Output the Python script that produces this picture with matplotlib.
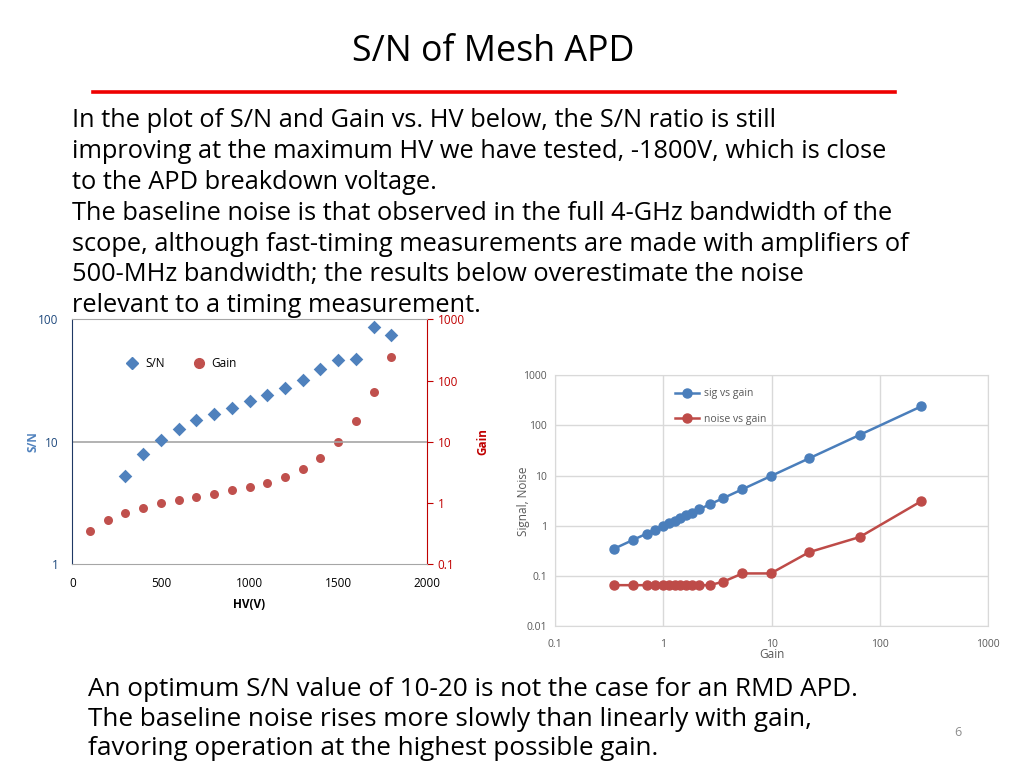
import numpy as np
import matplotlib
matplotlib.use('Agg')
import matplotlib.pyplot as plt
from matplotlib.lines import Line2D
from matplotlib.ticker import FixedLocator, FuncFormatter

# data
hv = [100, 200, 300, 400, 500, 600, 700, 800, 900, 1000,
      1100, 1200, 1300, 1400, 1500, 1600, 1700, 1800]
gain = [0.35, 0.53, 0.70, 0.84, 0.99, 1.12, 1.27, 1.43, 1.62, 1.83,
        2.15, 2.67, 3.56, 5.38, 9.8, 22.2, 65.0, 240.0]
sn_hv = [300, 400, 500, 600, 700, 800, 900, 1000, 1100, 1200,
         1300, 1400, 1500, 1600, 1700, 1800]
sn = [5.26, 7.96, 10.35, 12.65, 15.0, 16.9, 19.0, 21.4, 24.1, 27.5,
      32.2, 39.6, 46.6, 47.7, 86.6, 74.5]
signal = gain
noise = [0.066, 0.066, 0.066, 0.066, 0.066, 0.066, 0.066, 0.066, 0.066,
         0.066, 0.066, 0.066, 0.077, 0.113, 0.113, 0.30, 0.60, 3.1]

title = 'S/N of Mesh APD'
top_lines = [
    'In the plot of S/N and Gain vs. HV below, the S/N ratio is still',
    'improving at the maximum HV we have tested, -1800V, which is close',
    'to the APD breakdown voltage.',
    'The baseline noise is that observed in the full 4-GHz bandwidth of the',
    'scope, although fast-timing measurements are made with amplifiers of',
    '500-MHz bandwidth; the results below overestimate the noise',
    'relevant to a timing measurement.',
]
bottom_lines = [
    'An optimum S/N value of 10-20 is not the case for an RMD APD.',
    'The baseline noise rises more slowly than linearly with gain,',
    'favoring operation at the highest possible gain.',
]

W, H = 1024, 768
blue = '#4F81BD'
red = '#C0504D'
dark_blue = '#1F3864'
dark_red = '#C00000'
grey_txt = '#595959'
body_font = 'Open Sans'
chart_font = 'Open Sans'

fig = plt.figure(figsize=(W / 100, H / 100), dpi=100)
fig.patch.set_facecolor('white')


def px(x, y):
    return x / W, 1 - y / H


def fit_text(x, y, s, target_w, size, **kw):
    t = fig.text(*px(x, y), s, fontsize=size, **kw)
    r = fig.canvas.get_renderer()
    w = t.get_window_extent(r).width
    t.set_fontsize(size * target_w / w)
    return t


# title and red rule
fit_text(493, 61, title, 282, 22, ha='center', va='baseline',
         family=body_font)
fig.add_artist(Line2D([93 / W, 895 / W], [1 - 92 / H, 1 - 92 / H],
                      color='#EE0000', lw=2.6))

# ---------------- left chart: S/N and gain vs HV ----------------
axl = fig.add_axes([72.3 / W, 1 - 564.3 / H, 354.4 / W, 245 / H])
axl.set_xlim(0, 2000)
axl.set_yscale('log')
axl.set_ylim(1, 100)
axl.scatter(sn_hv, sn, marker='D', s=48, color=blue, zorder=3,
            label='S/N', linewidths=0)
axl.axhline(10, color='#A6A6A6', lw=1.2, zorder=1)
axl.set_xticks([0, 500, 1000, 1500, 2000])
axl.yaxis.set_major_locator(FixedLocator([1, 10, 100]))
axl.yaxis.set_minor_locator(FixedLocator([]))
axl.yaxis.set_major_formatter(FuncFormatter(lambda v, p: '%g' % v))
axl.tick_params(axis='y', length=0, labelsize=8.5, labelcolor='#1F497D',
                pad=10)
axl.tick_params(axis='x', length=0, labelsize=8.5, labelcolor='#000000',
                pad=9)
for lab in axl.get_xticklabels() + axl.get_yticklabels():
    lab.set_family(chart_font)
axl.spines['left'].set_color(dark_blue)
axl.spines['top'].set_color('#A6A6A6')
axl.spines['bottom'].set_color('#A6A6A6')
axl.spines['right'].set_visible(False)
axl.set_xlabel('HV(V)', fontsize=8.5, fontweight='bold', family=chart_font,
               labelpad=6)
axl.set_ylabel('S/N', fontsize=8.5, fontweight='bold', color=blue,
               family=chart_font, labelpad=-1)

axr = axl.twinx()
axr.set_yscale('log')
axr.set_ylim(0.1, 1000)
axr.scatter(hv, gain, marker='o', s=42, color=red, zorder=3,
            label='Gain', linewidths=0)
axr.yaxis.set_major_locator(FixedLocator([0.1, 1, 10, 100, 1000]))
axr.yaxis.set_minor_locator(FixedLocator([]))
axr.yaxis.set_major_formatter(FuncFormatter(lambda v, p: '%g' % v))
axr.tick_params(axis='y', length=4, color=dark_red, labelsize=8.5,
                labelcolor=dark_red, pad=4)
for lab in axr.get_yticklabels():
    lab.set_family(chart_font)
axr.spines['right'].set_color(dark_red)
axr.spines['left'].set_visible(False)
axr.spines['top'].set_visible(False)
axr.spines['bottom'].set_visible(False)
axr.set_ylabel('Gain', fontsize=8.5, fontweight='bold', color=dark_red,
               family=chart_font, labelpad=8)
axl.patch.set_visible(False)
axl.set_zorder(axr.get_zorder() + 1)

handles = [
    Line2D([0], [0], marker='D', ls='none', color=blue, markersize=6.5,
           label='S/N'),
    Line2D([0], [0], marker='o', ls='none', color=red, markersize=7,
           label='Gain'),
]
axl.legend(handles=handles, loc='upper left', bbox_to_anchor=(0.105, 0.89),
           ncol=2, frameon=False, handletextpad=0.1, columnspacing=1.9,
           prop={'family': chart_font, 'size': 8.5})

# ---------------- right chart: signal and noise vs gain ----------------
ax2 = fig.add_axes([555 / W, 1 - 626.3 / H, 433.3 / W, 251 / H])
ax2.set_xscale('log')
ax2.set_yscale('log')
ax2.set_xlim(0.1, 1000)
ax2.set_ylim(0.01, 1000)
ax2.plot(gain, signal, '-o', color='#4A7EBB', lw=1.8, ms=6.5,
         label='sig vs gain', zorder=3)
ax2.plot(gain, noise, '-o', color='#BE4B48', lw=1.8, ms=6.5,
         label='noise vs gain', zorder=3)
ax2.xaxis.set_major_locator(FixedLocator([0.1, 1, 10, 100, 1000]))
ax2.yaxis.set_major_locator(FixedLocator([0.01, 0.1, 1, 10, 100, 1000]))
ax2.xaxis.set_minor_locator(FixedLocator([]))
ax2.yaxis.set_minor_locator(FixedLocator([]))
fmt = FuncFormatter(lambda v, p: '%g' % v)
ax2.xaxis.set_major_formatter(fmt)
ax2.yaxis.set_major_formatter(fmt)
ax2.grid(True, color='#D9D9D9', lw=1)
ax2.set_axisbelow(True)
for sp in ax2.spines.values():
    sp.set_color('#D9D9D9')
ax2.tick_params(axis='y', length=0, labelsize=7.5, labelcolor=grey_txt, pad=6)
ax2.tick_params(axis='x', length=0, labelsize=7.5, labelcolor=grey_txt, pad=9)
for lab in ax2.get_xticklabels() + ax2.get_yticklabels():
    lab.set_family(chart_font)
ax2.set_xlabel('Gain', fontsize=8.5, color=grey_txt, family=chart_font,
               labelpad=-1)
ax2.set_ylabel('Signal, Noise', fontsize=8.5, color=grey_txt,
               family=chart_font, labelpad=-5)
ax2.legend(loc='upper left', bbox_to_anchor=(0.255, 0.985), frameon=False,
           handlelength=2.3, handletextpad=0.45, labelspacing=1.35,
           prop={'family': chart_font, 'size': 7.5}, labelcolor=grey_txt)

# ---------------- slide text ----------------
line_y = [127, 158, 189, 220, 251, 281, 312]
t0 = fit_text(72, line_y[1], top_lines[1], 818, 16, va='baseline',
              family=body_font)
body_size = t0.get_fontsize()
t0.remove()
for y, s in zip(line_y, top_lines):
    fig.text(*px(72, y), s, fontsize=body_size, va='baseline',
             family=body_font, zorder=5)

bot_y = [696, 726, 755]
t1 = fit_text(88, bot_y[0], bottom_lines[0], 770, 16, va='baseline',
              family=body_font)
bot_size = t1.get_fontsize()
t1.remove()
for y, s in zip(bot_y, bottom_lines):
    fig.text(*px(88, y), s, fontsize=bot_size, va='baseline',
             family=body_font, zorder=5)

fig.text(*px(958, 733), '6', fontsize=9, color='#8C8C8C', ha='center',
         va='center', family=body_font)

fig.savefig('out.png', dpi=100, facecolor='white')
